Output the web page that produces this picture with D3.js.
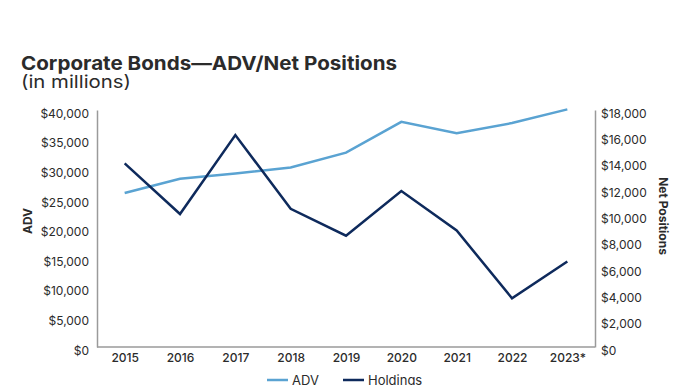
<!DOCTYPE html>
<html>
<head>
<meta charset="utf-8">
<script src="https://cdn.jsdelivr.net/npm/d3@7"></script>
<style>
  body { margin: 0; background: #fff; }
  svg text { font-family: Inter, "Liberation Sans", Arial, sans-serif; fill: #2b2b2b; }
</style>
</head>
<body>
<script>
// chart size
var w = 696;
var h = 385;

// data
var years = ["2015", "2016", "2017", "2018", "2019", "2020", "2021", "2022", "2023*"];
var adv = [26000, 28400, 29300, 30300, 32800, 38000, 36100, 37800, 40100];
var holdings = [13950, 10100, 16100, 10500, 8450, 11850, 8850, 3700, 6500];
var leftTicks = [0, 5000, 10000, 15000, 20000, 25000, 30000, 35000, 40000];
var rightTicks = [0, 2000, 4000, 6000, 8000, 10000, 12000, 14000, 16000, 18000];

var margin = {left: 97, right: 595, top: 110, bottom: 347};

var svg = d3.select("body").append("svg")
    .attr("width", w)
    .attr("height", h);

// titles
svg.append("text")
    .attr("x", 21).attr("y", 70)
    .attr("textLength", 376)
    .attr("lengthAdjust", "spacingAndGlyphs")
    .style("font-size", "19px").style("font-weight", "bold")
    .text("Corporate Bonds\u2014ADV/Net Positions");
svg.append("text")
    .attr("x", 21).attr("y", 88)
    .attr("textLength", 110)
    .attr("lengthAdjust", "spacingAndGlyphs")
    .style("font-size", "17.5px")
    .text("(in millions)");

// scales
var xScale = d3.scalePoint()
    .domain(years)
    .range([margin.left, margin.right])
    .padding(0.5);

var yLeft = d3.scaleLinear()
    .domain([0, 40000])
    .range([margin.bottom, margin.top]);

var yRight = d3.scaleLinear()
    .domain([0, 18000])
    .range([margin.bottom, margin.top]);

var fmt = function(d) { return "$" + d3.format(",")(d); };

// left axis
var leftAxis = svg.append("g")
    .attr("transform", "translate(" + margin.left + ",0)")
    .call(d3.axisLeft(yLeft).tickValues(leftTicks).tickFormat(fmt).tickSize(0).tickPadding(8));

// right axis
var rightAxis = svg.append("g")
    .attr("transform", "translate(" + margin.right + ",0)")
    .call(d3.axisRight(yRight).tickValues(rightTicks).tickFormat(fmt).tickSize(0).tickPadding(6));

// x axis
var xAxis = svg.append("g")
    .attr("transform", "translate(0," + margin.bottom + ")")
    .call(d3.axisBottom(xScale).tickSize(0).tickPadding(6));

[leftAxis, rightAxis, xAxis].forEach(function(g) {
    g.selectAll(".domain").attr("stroke", "#9a9a9a").attr("stroke-width", 1.5);
    g.selectAll("text").style("font-size", "12px").attr("fill", "#2b2b2b");
});
leftAxis.selectAll("text").attr("dy", "0.6em");
rightAxis.selectAll("text").attr("dy", "0.6em");
xAxis.selectAll("text").style("font-weight", "500");
xAxis.select(".domain").attr("d", "M" + margin.left + ",0H" + margin.right);

// axis titles
svg.append("text")
    .attr("transform", "translate(32,221) rotate(-90)")
    .attr("text-anchor", "middle")
    .style("font-size", "12px").style("font-weight", "bold")
    .text("ADV");
svg.append("text")
    .attr("transform", "translate(659,216) rotate(90)")
    .attr("text-anchor", "middle")
    .style("font-size", "12px").style("font-weight", "bold")
    .text("Net Positions");

// lines
var advLine = d3.line()
    .x(function(d, i) { return xScale(years[i]); })
    .y(function(d) { return yLeft(d); });

var holdLine = d3.line()
    .x(function(d, i) { return xScale(years[i]); })
    .y(function(d) { return yRight(d); });

svg.append("path")
    .datum(adv)
    .attr("d", advLine)
    .attr("fill", "none")
    .attr("stroke", "#5aa3d2")
    .attr("stroke-width", 2.5);

svg.append("path")
    .datum(holdings)
    .attr("d", holdLine)
    .attr("fill", "none")
    .attr("stroke", "#0e2a5c")
    .attr("stroke-width", 2.5);

// legend
var legend = [
    {name: "ADV", color: "#5aa3d2", x: 267},
    {name: "Holdings", color: "#0e2a5c", x: 343}
];
var lg = svg.selectAll(".legend")
    .data(legend)
    .enter()
    .append("g")
    .attr("class", "legend");
lg.append("line")
    .attr("x1", function(d) { return d.x; })
    .attr("x2", function(d) { return d.x + 21; })
    .attr("y1", 380).attr("y2", 380)
    .attr("stroke", function(d) { return d.color; })
    .attr("stroke-width", 2.5);
lg.append("text")
    .attr("x", function(d) { return d.x + 25; })
    .attr("y", 385)
    .style("font-size", "13px")
    .text(function(d) { return d.name; });
</script>
</body>
</html>
